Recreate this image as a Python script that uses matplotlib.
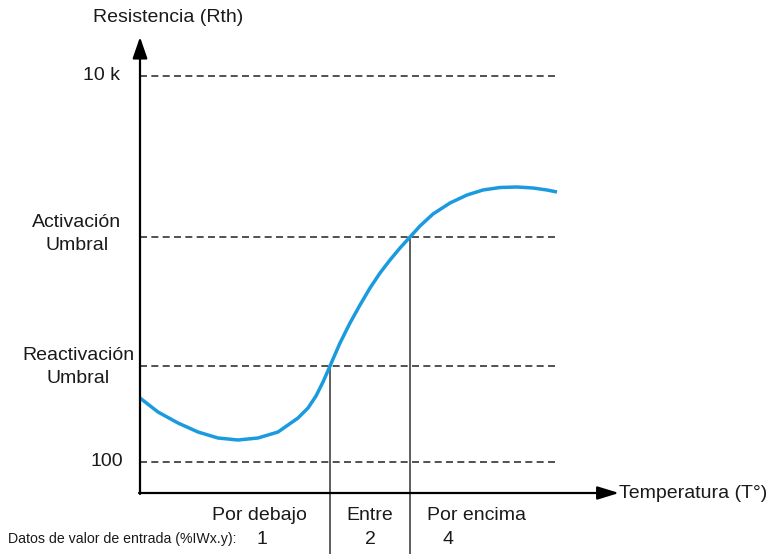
import matplotlib
matplotlib.use("Agg")
import matplotlib.pyplot as plt

plt.rcParams['font.family'] = ['Liberation Sans', 'DejaVu Sans']

# Curve (temperature units, resistance units; schematic)
temp = [0, 18, 38, 58, 78, 98, 118, 138, 158, 168, 176, 183, 190, 200, 210,
        220, 230, 240, 250, 260, 270, 280, 293, 310, 327, 343, 360, 377,
        393, 407, 417]
resist = [95, 81, 70, 61, 55, 53, 55, 61, 75, 85, 97, 111, 127, 150, 170,
          188, 205, 220, 233, 245, 256, 267, 279, 290, 298, 303, 305.5, 306,
          305, 303, 301]

# Horizontal reference levels
level_names = ["10 k", "Activación\nUmbral", "Reactivación\nUmbral", "100"]
level_values = [417, 256, 127, 31]
x_max_dash = 417

# Threshold crossing temperatures
t_low = 190
t_high = 270

zone_labels = ["Por debajo", "Entre", "Por encima"]
zone_values = ["1", "2", "4"]
row_title = "Datos de valor de entrada (%IWx.y):"

fig = plt.figure(figsize=(7.66, 5.54), dpi=100)
ax = fig.add_axes([0, 0, 1, 1])
ax.set_xlim(-140, 626)
ax.set_ylim(-61, 493)
ax.axis('off')

dash_color = '#333333'
# dashed level lines
for v in level_values:
    ax.plot([0, x_max_dash], [v, v], color=dash_color, lw=1.2,
            linestyle=(0, (4.2, 2.6)), zorder=1)

# vertical threshold lines
ax.plot([t_low, t_low], [level_values[2], -61], color=dash_color, lw=1.1, zorder=1)
ax.plot([t_high, t_high], [level_values[1], -61], color=dash_color, lw=1.1, zorder=1)

# curve
ax.plot(temp, resist, color='#1a9be0', lw=2.5, solid_joinstyle='round',
        solid_capstyle='butt', zorder=3)

# axes arrows
ax.annotate('', xy=(0, 456), xytext=(0, -1),
            arrowprops=dict(arrowstyle='-|>,head_length=1.3,head_width=0.45',
                            color='black', lw=1.6, shrinkA=0, shrinkB=0), zorder=4)
ax.annotate('', xy=(479, 0), xytext=(-1, 0),
            arrowprops=dict(arrowstyle='-|>,head_length=1.3,head_width=0.4',
                            color='black', lw=1.6, shrinkA=0, shrinkB=0), zorder=4)

fs = 14
tc = '#1a1a1a'
ax.text(28, 475, "Resistencia (Rth)", ha='center', va='center', fontsize=fs, color=tc)
ax.text(479, 0, "Temperatura (T°)", ha='left', va='center', fontsize=fs, color=tc)

# level labels
ax.text(-20, level_values[0], level_names[0], ha='right', va='center', fontsize=fs, color=tc)
ax.text(-63, level_values[1] + 3, level_names[1], ha='center', va='center',
        fontsize=fs, multialignment='center', linespacing=1.52, color=tc)
ax.text(-62, level_values[2] - 1, level_names[2], ha='center', va='center',
        fontsize=fs, multialignment='center', linespacing=1.52, color=tc)
ax.text(-17, level_values[3], level_names[3], ha='right', va='center', fontsize=fs, color=tc)

# zone labels
ax.text(167, -23, zone_labels[0], ha='right', va='center', fontsize=fs, color=tc)
ax.text(230, -23, zone_labels[1], ha='center', va='center', fontsize=fs, color=tc)
ax.text(287, -23, zone_labels[2], ha='left', va='center', fontsize=fs, color=tc)

ax.text(-132, -46, row_title, ha='left', va='center', fontsize=10.2, color=tc)
ax.text(122, -46, zone_values[0], ha='center', va='center', fontsize=fs, color=tc)
ax.text(230, -46, zone_values[1], ha='center', va='center', fontsize=fs, color=tc)
ax.text(308, -46, zone_values[2], ha='center', va='center', fontsize=fs, color=tc)

fig.savefig("out.png", dpi=100)
